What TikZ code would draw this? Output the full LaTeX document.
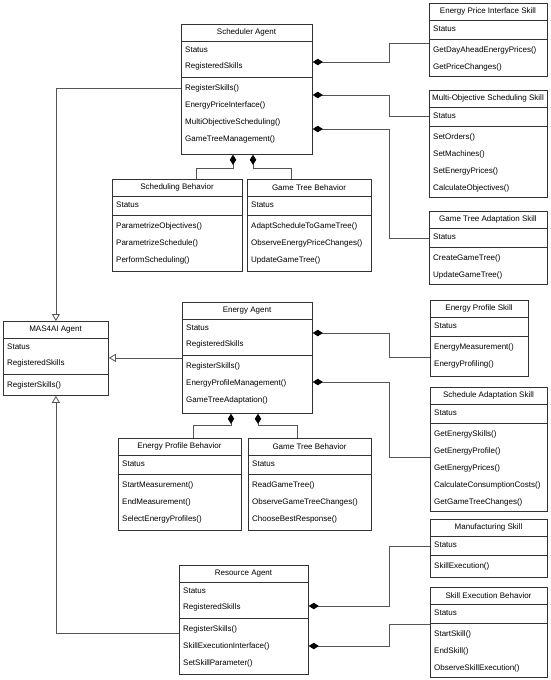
\documentclass[tikz,border=0pt]{standalone}
\usepackage{fontspec}
\setmainfont{Liberation Sans}
\usetikzlibrary{arrows.meta}

\definecolor{boxline}{RGB}{50,50,50}
\definecolor{connline}{RGB}{85,85,85}

% id, x, y, width, title, attributes, methods, extra height
\newcommand{\umlclass}[8]{%
    \def\attrn{0}\def\methn{0}%
    \foreach \t in {#6} {\pgfmathtruncatemacro\newn{\attrn+1}\global\let\attrn\newn}%
    \foreach \t in {#7} {\pgfmathtruncatemacro\newn{\methn+1}\global\let\methn\newn}%
    \pgfmathsetmacro\boxh{17+17*\attrn+5+17*\methn+#8}%
    \node[classbox,minimum width=#4pt,minimum height=\boxh pt] (#1) at (#2,#3) {};
    \draw[classline] (#2,#3+17) -- ++(#4,0);
    \node[titletext] (#1-t) at (#2+#4/2,#3+8.5) {#5};
    \foreach \t [count=\i] in {#6}
        \node[rowtext] (#1-a\i) at (#2+4,{#3+8.5+17*\i}) {\t};
    \draw[classline] (#2,{#3+17+17*\attrn+2.5}) -- ++(#4,0);
    \foreach \t [count=\i] in {#7}
        \node[rowtext] (#1-m\i) at (#2+4,{#3+17*\attrn+13.5+17*\i}) {\t};
}

\begin{document}
\begin{tikzpicture}[x=1pt,y=-1pt,
    classbox/.style={draw=boxline,line width=0.8pt,fill=white,anchor=north west,inner sep=0pt},
    classline/.style={draw=boxline,line width=0.8pt},
    titletext/.style={inner sep=0pt,font=\fontsize{8}{9.6}\selectfont},
    rowtext/.style={inner sep=0pt,anchor=west,font=\fontsize{8}{9.6}\selectfont},
    comp/.style={draw=connline,line width=0.8pt,{Diamond[length=10pt,width=6.5pt,fill=black,color=black]}-},
    gen/.style={draw=connline,line width=0.8pt,-{Triangle[open,length=7pt,width=8pt,fill=white]}}]
\fill[white] (0,0) rectangle (550,680);
\useasboundingbox (0,0) rectangle (550,680);

% agents
\umlclass{scheduler}{181}{24}{131}{Scheduler Agent}{Status,RegisteredSkills}
    {RegisterSkills(),EnergyPriceInterface(),MultiObjectiveScheduling(),GameTreeManagement()}{6}
\umlclass{mas}{3}{321}{105}{MAS4AI Agent}{Status,RegisteredSkills}{RegisterSkills()}{1}
\umlclass{energy}{182}{302}{130}{Energy Agent}{Status,RegisteredSkills}
    {RegisterSkills(),EnergyProfileManagement(),GameTreeAdaptation()}{4}
\umlclass{resource}{179}{565}{129}{Resource Agent}{Status,RegisteredSkills}
    {RegisterSkills(),SkillExecutionInterface(),SetSkillParameter()}{2}

% behaviors
\umlclass{schedbeh}{112}{179}{130}{Scheduling Behavior}{Status}
    {ParametrizeObjectives(),ParametrizeSchedule(),PerformScheduling()}{2}
\umlclass{gtbehA}{247}{179}{124}{Game Tree Behavior}{Status}
    {AdaptScheduleToGameTree(),ObserveEnergyPriceChanges(),UpdateGameTree()}{2}
\umlclass{profbeh}{118}{438}{123}{Energy Profile Behavior}{Status}
    {StartMeasurement(),EndMeasurement(),SelectEnergyProfiles()}{2}
\umlclass{gtbehB}{248}{438}{123}{Game Tree Behavior}{Status}
    {ReadGameTree(),ObserveGameTreeChanges(),ChooseBestResponse()}{2}

% skills
\umlclass{priceskill}{429}{3}{118}{Energy Price Interface Skill}{Status}
    {GetDayAheadEnergyPrices(),GetPriceChanges()}{0}
\umlclass{moskill}{429}{90}{118}{Multi-Objective Scheduling Skill}{Status}
    {SetOrders(),SetMachines(),SetEnergyPrices(),CalculateObjectives()}{0}
\umlclass{gtskill}{429}{211}{118}{Game Tree Adaptation Skill}{Status}
    {CreateGameTree(),UpdateGameTree()}{0}
\umlclass{profskill}{430}{300}{98}{Energy Profile Skill}{Status}
    {EnergyMeasurement(),EnergyProfiling()}{3}
\umlclass{adaptskill}{430}{387}{117}{Schedule Adaptation Skill}{Status}
    {GetEnergySkills(),GetEnergyProfile(),GetEnergyPrices(),CalculateConsumptionCosts(),GetGameTreeChanges()}{0}
\umlclass{manskill}{430}{519}{117}{Manufacturing Skill}{Status}{SkillExecution()}{2}
\umlclass{execbeh}{430}{587}{117}{Skill Execution Behavior}{Status}
    {StartSkill(),EndSkill(),ObserveSkillExecution()}{0}

% inheritance
\draw[gen] (scheduler.west |- 0,88) -| (mas.north);
\draw[gen] (energy.west) -- (energy.west -| mas.east);
\draw[gen] (resource.west |- 0,633) -| (mas.south);

% composition
\draw[comp] (scheduler.south -| 233,0) -- (233,168) -| (schedbeh.north -| 196,0);
\draw[comp] (scheduler.south -| 253,0) -- (253,168) -| (gtbehA.north -| 291,0);
\draw[comp] (scheduler.east |- 0,62) -| (389,43) -- (priceskill.west |- 0,43);
\draw[comp] (scheduler.east |- 0,95) -| (389,116) -- (moskill.west |- 0,116);
\draw[comp] (scheduler.east |- 0,129) -| (389,238) -- (gtskill.west |- 0,238);

\draw[comp] (energy.south -| 231,0) -- (231,425) -| (profbeh.north -| 193,0);
\draw[comp] (energy.south -| 258,0) -- (258,425) -| (gtbehB.north -| 297,0);
\draw[comp] (energy.east |- 0,333) -| (389,357) -- (profskill.west |- 0,357);
\draw[comp] (energy.east |- 0,382) -| (389,457) -- (adaptskill.west |- 0,457);

\draw[comp] (resource.east |- 0,606) -| (389,546) -- (manskill.west |- 0,546);
\draw[comp] (resource.east |- 0,646) -| (389,624) -- (execbeh.west |- 0,624);
\end{tikzpicture}
\end{document}
